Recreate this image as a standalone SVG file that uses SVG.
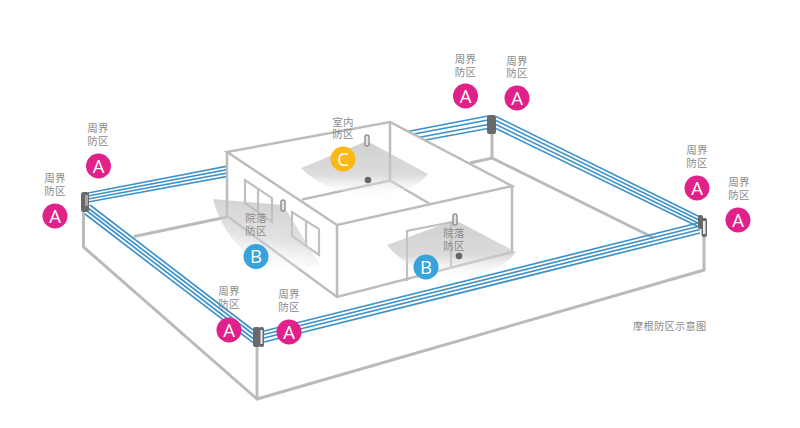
<svg xmlns="http://www.w3.org/2000/svg" width="800" height="428" viewBox="0 0 800 428">
<style>
.g{fill:none;stroke:#bababa;stroke-width:3;stroke-linejoin:miter}
.h{fill:none;stroke:#bcbcbc;stroke-width:2.500;stroke-linejoin:miter}
.n{fill:none;stroke:#c0c0c0;stroke-width:2.200;stroke-linejoin:miter}
.w{fill:none;stroke:#3f93c8;stroke-width:1.700}
.p{fill:#696969}
.l{font:10.500px "Liberation Sans","Noto Sans CJK SC",sans-serif;fill:#8a8a8a;text-anchor:middle;letter-spacing:.3px}
.cap{font:10.200px "Liberation Sans","Noto Sans CJK SC",sans-serif;fill:#8a8a8a;letter-spacing:.3px}
.t{font:400 18.500px "Open Sans","Noto Sans",sans-serif;fill:#fff;text-anchor:middle}
.a{fill:#e0218a}.b{fill:#36a3de}.c{fill:#fdb913}
.s{fill:#e4e4e4;stroke:#949494;stroke-width:1.500}
.d{fill:#666}
</style>
<defs>
<linearGradient id="fc" x1="0" y1="0" x2="0" y2="1"><stop offset="0" stop-color="#bcbcbc" stop-opacity=".7"/><stop offset=".6" stop-color="#c8c8c8" stop-opacity=".65"/><stop offset="1" stop-color="#fff" stop-opacity=".1"/></linearGradient>
<linearGradient id="fb" x1="0.6" y1="0.1" x2="0.35" y2="1"><stop offset="0" stop-color="#bcbcbc" stop-opacity=".65"/><stop offset=".5" stop-color="#cfcfcf" stop-opacity=".6"/><stop offset="1" stop-color="#fff" stop-opacity=".1"/></linearGradient>
</defs>
<rect width="800" height="428" fill="#fff"/>
<g id="connectors">
<g id="ground">
<path class="g" d="M83.500,210V247L257,399L704,270V237"/>
<path class="g" d="M257,345V399"/>
<path class="g" d="M134,236.500L227,217"/>
<path class="g" d="M470,163L492,158L654,238"/>
<path class="g" d="M492,133V158"/>
</g>
<g id="wires">
<path class="w" d="M88,193L488,116M88,196L488,120M88,199L488,124.500M88,202L488,128.500"/>
<path class="w" d="M496,116.500L700,217M496,120.500L700,220.500M496,124.500L700,224M496,128.500L700,227.500"/>
<path class="w" d="M262,331.500L700,222.500M262,335L700,226M262,338.500L700,229.500M262,342.500L700,233"/>
<path class="w" d="M90,205L253,330M88,208L253,334M87,211L253,338.500M85,214L253,342.700"/>
</g>
</g>
<g id="house">
<path d="M227,152L390,122L512,186V252L337,297L227,216Z" fill="#fff"/>
<path class="h" d="M227,152L390,122L512,186L337,225ZM227,152V216L337,297L512,252V186M337,225V297"/>
<path class="h" d="M390,122V180.500M302,199.500L390,180.500L430,204"/>
<path class="n" d="M407,281V231L452,222M451,222V268"/>
<path class="n" d="M245,203V180L272,198V222ZM258,188V212"/>
<path class="n" d="M292,236V212L319,229V255ZM306,221V245"/>
</g>
<g id="coverage">
<path d="M367,141L301,168Q322,190 368,197Q412,195 428,174Z" fill="url(#fc)"/>
<path d="M283,205L213,199Q222,236 255,260Q285,274 320,265Z" fill="url(#fb)"/>
<path d="M455,220L387,245Q405,268 447,279Q495,280 516,252Z" fill="url(#fc)"/>
</g>
<g id="posts">
<rect id="post-left" class="p" x="81" y="192" width="8" height="20" rx="2.500"/>
<rect x="85" y="195" width="3" height="11" fill="#a8a8a8"/>
<g id="post-front"><rect class="p" x="253" y="327" width="7" height="20" rx="2"/><rect class="p" x="259" y="327" width="5" height="20" rx="2"/><rect x="260.500" y="330" width="2" height="14" fill="#eee"/></g>
<rect id="post-back" class="p" x="487" y="115" width="9" height="19" rx="2"/>
<g id="post-right"><rect class="p" x="698" y="215" width="5" height="14" rx="2"/><rect class="p" x="701.500" y="218" width="5.500" height="19" rx="2"/><rect x="703" y="221" width="2.500" height="13" fill="#eee"/></g>
</g>
<g id="sensors">
<rect class="s" x="365" y="135" width="4" height="11" rx="2"/>
<rect class="s" x="281" y="200" width="4" height="11" rx="2"/>
<rect class="s" x="453" y="214" width="4" height="11" rx="2"/>
<circle class="d" cx="368" cy="180" r="3.300"/>
<circle class="d" cx="459" cy="256" r="3.300"/>
</g>
<g id="node-a1"><text class="l" x="55" y="182">周界<tspan x="55" dy="12.500">防区</tspan></text><circle class="a" cx="55" cy="216" r="12.500"/><text class="t" x="55" y="222.500">A</text></g>
<g id="node-a2"><text class="l" x="98" y="132">周界<tspan x="98" dy="12.500">防区</tspan></text><circle class="a" cx="98.500" cy="166" r="12.500"/><text class="t" x="98.500" y="172.500">A</text></g>
<g id="node-a3"><text class="l" x="229" y="295">周界<tspan x="229" dy="12.500">防区</tspan></text><circle class="a" cx="229" cy="330" r="12.500"/><text class="t" x="229" y="336.500">A</text></g>
<g id="node-a4"><text class="l" x="289" y="298">周界<tspan x="289" dy="12.500">防区</tspan></text><circle class="a" cx="289" cy="332" r="12.500"/><text class="t" x="289" y="338.500">A</text></g>
<g id="node-a5"><text class="l" x="465.500" y="63">周界<tspan x="465.500" dy="12.500">防区</tspan></text><circle class="a" cx="465.500" cy="96" r="12.500"/><text class="t" x="465.500" y="102.500">A</text></g>
<g id="node-a6"><text class="l" x="517" y="64.500">周界<tspan x="517" dy="12.500">防区</tspan></text><circle class="a" cx="517" cy="98" r="12.500"/><text class="t" x="517" y="104.500">A</text></g>
<g id="node-a7"><text class="l" x="697" y="154">周界<tspan x="697" dy="12.500">防区</tspan></text><circle class="a" cx="697" cy="188" r="12.500"/><text class="t" x="697" y="194.500">A</text></g>
<g id="node-a8"><text class="l" x="739" y="186">周界<tspan x="739" dy="12.500">防区</tspan></text><circle class="a" cx="738" cy="220" r="12.500"/><text class="t" x="738" y="226.500">A</text></g>
<g id="node-b1"><text class="l" x="256" y="222">院落<tspan x="256" dy="12.800">防区</tspan></text><circle class="b" cx="256" cy="256.500" r="12.500"/><text class="t" x="256" y="263">B</text></g>
<g id="node-b2"><text class="l" x="454" y="237">院落<tspan x="454" dy="12.800">防区</tspan></text><circle class="b" cx="426" cy="267" r="12.500"/><text class="t" x="426" y="273.500">B</text></g>
<g id="node-c"><text class="l" x="343" y="125.500">室内<tspan x="343" dy="12.500">防区</tspan></text><circle class="c" cx="343" cy="159" r="12.500"/><text class="t" x="343" y="165.500">C</text></g>
<text class="cap" x="633" y="329.500">摩根防区示意图</text>
</svg>
